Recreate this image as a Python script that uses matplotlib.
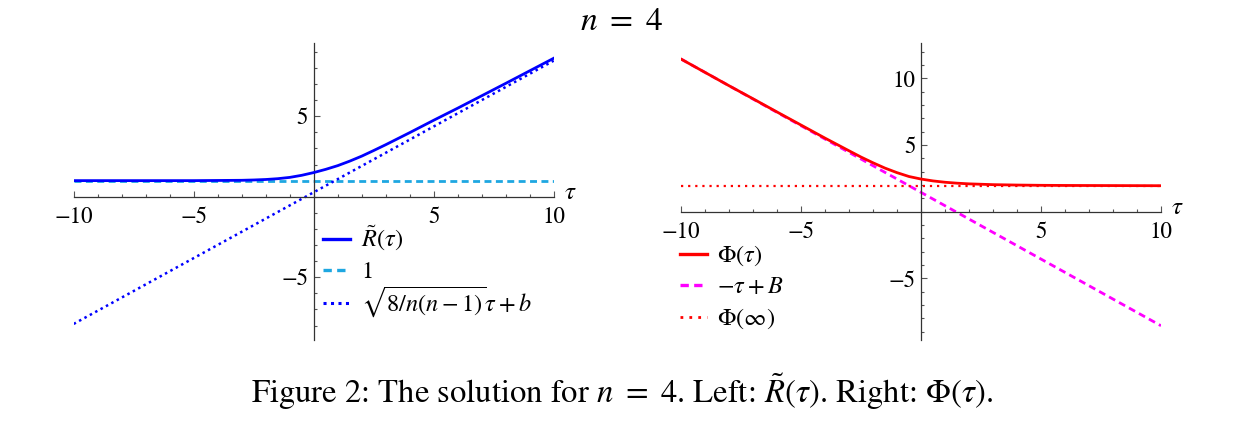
import matplotlib
matplotlib.use("Agg")
import matplotlib.pyplot as plt
from matplotlib.lines import Line2D
from matplotlib.ticker import MultipleLocator, FixedLocator

plt.rcParams['font.family'] = ['STIXGeneral', 'DejaVu Sans']
plt.rcParams['mathtext.fontset'] = 'stix'

# left panel: R~(tau), n = 4
tau_R = [-10, -8, -6, -5, -4, -3, -2.5, -2, -1.5, -1, -0.5, 0, 0.5, 1, 1.5,
         2, 2.5, 3, 4, 5, 6, 7, 8, 9, 10]
R_vals = [1.0, 1.0, 1.0, 1.0, 1.01, 1.02, 1.04, 1.07, 1.12, 1.2, 1.33, 1.5,
          1.7, 1.93, 2.21, 2.52, 2.87, 3.23, 3.98, 4.75, 5.5, 6.27, 7.04, 7.82, 8.6]
tau_ends = [-10, 10]
R_one = [1.0, 1.0]
R_asym = [-7.9, 8.45]

# right panel: Phi(tau)
tau_phi = [-10, -9, -8, -7, -6, -5, -4, -3, -2.5, -2, -1.5, -1, -0.5, 0, 0.5,
           1, 1.5, 2, 3, 4, 5, 6, 8, 10]
phi_vals = [11.45, 10.45, 9.45, 8.47, 7.48, 6.5, 5.52, 4.57, 4.1, 3.67, 3.27,
            2.93, 2.64, 2.45, 2.31, 2.21, 2.14, 2.09, 2.03, 2.0, 1.98, 1.97,
            1.96, 1.95]
phi_asym = [11.45, -8.55]
phi_inf = [1.95, 1.95]

x_ticks = [-10, -5, 5, 10]
left_yticks = [-5, 5]
right_yticks = [-5, 5, 10]

left_labels = [r'$\tilde{R}(\tau)$', r'$1$', r'$\sqrt{8/n(n-1)}\tau+b$']
right_labels = [r'$\Phi(\tau)$', r'$-\tau+B$', r'$\Phi(\infty)$']

# line styles
solid_blue = dict(color='#0000ff', lw=2.0, ls='-')
dash_cyan = dict(color='#1ea7e1', lw=2.0, ls=(0, (2.5, 1.6)))
dot_blue = dict(color='#0000ff', lw=1.8, ls=(0, (1, 1.45)))
solid_red = dict(color='#ff0000', lw=2.0, ls='-')
dash_magenta = dict(color='#ff00ff', lw=2.0, ls=(0, (2.5, 1.6)))
dot_red = dict(color='#ff0000', lw=1.6, ls=(0, (1, 2.2)))

W, H = 1244, 434
fig = plt.figure(figsize=(W / 100, H / 100), dpi=100)
fig.patch.set_facecolor('white')


def px_axes(x0, x1, y_top, y_bot):
    return fig.add_axes([x0 / W, 1 - y_bot / H, (x1 - x0) / W, (y_bot - y_top) / H])


def style(ax, ylim, yticks):
    ax.set_xlim(-10, 10)
    ax.set_ylim(*ylim)
    ax.patch.set_visible(False)
    for s in ['top', 'right']:
        ax.spines[s].set_visible(False)
    for s in ['left', 'bottom']:
        ax.spines[s].set_position(('data', 0))
        ax.spines[s].set_color('#333333')
        ax.spines[s].set_linewidth(0.9)
    ax.xaxis.set_major_locator(FixedLocator(x_ticks))
    ax.xaxis.set_minor_locator(MultipleLocator(1))
    ax.yaxis.set_major_locator(FixedLocator(yticks))
    ax.yaxis.set_minor_locator(MultipleLocator(1))
    ax.tick_params(which='both', direction='in', color='#555555', width=0.8,
                   labelsize=16.5)
    ax.tick_params(which='major', length=4)
    ax.tick_params(which='minor', length=2.4)
    ax.tick_params(axis='x', pad=7)
    ax.tick_params(axis='y', pad=4)
    ax.annotate(r'$\tau$', xy=(10, 0), xytext=(12, 3), textcoords='offset points',
                fontsize=18, ha='center', va='center', annotation_clip=False)


def key_rows(styles, labels, x0, x1, xt, rows, size=17.5):
    # hand-placed legend, one row per entry (pixel positions from the picture)
    for st, lab, y in zip(styles, labels, rows):
        fig.add_artist(Line2D([x0 / W, x1 / W], [1 - y / H, 1 - y / H],
                              transform=fig.transFigure, color=st['color'],
                              lw=st['lw'] + 0.4, ls=st['ls']))
        fig.text(xt / W, 1 - (y + 8) / H, lab, fontsize=size,
                 ha='left', va='baseline')


# left
axL = px_axes(73.7, 553.7, 43.3, 340)
style(axL, (-8.9, 9.53), left_yticks)
axL.plot(tau_R, R_vals, zorder=3, **solid_blue)
axL.plot(tau_ends, R_one, zorder=2, **dash_cyan)
axL.plot(tau_ends, R_asym, zorder=2, **dot_blue)
key_rows([solid_blue, dash_cyan, dot_blue], left_labels, 323, 350, 361,
         [239, 270, 303])

# right
axR = px_axes(681, 1161, 43.3, 340)
style(axR, (-9.62, 12.63), right_yticks)
axR.plot(tau_phi, phi_vals, zorder=3, **solid_red)
axR.plot(tau_ends, phi_asym, zorder=2, **dash_magenta)
axR.plot(tau_ends, phi_inf, zorder=2, **dot_red)
key_rows([solid_red, dash_magenta, dot_red], right_labels, 680, 707, 717,
         [254, 285, 317])

fig.text(622 / W, 1 - 22 / H, r'$n\ =\ 4$', fontsize=24, ha='center', va='center')
fig.text(622 / W, 1 - 392 / H,
         r'Figure 2: The solution for $n\ =\ 4$. Left: $\tilde{R}(\tau)$. Right: $\Phi(\tau)$.',
         fontsize=23.5, ha='center', va='center')

fig.savefig('out.png', dpi=100)
